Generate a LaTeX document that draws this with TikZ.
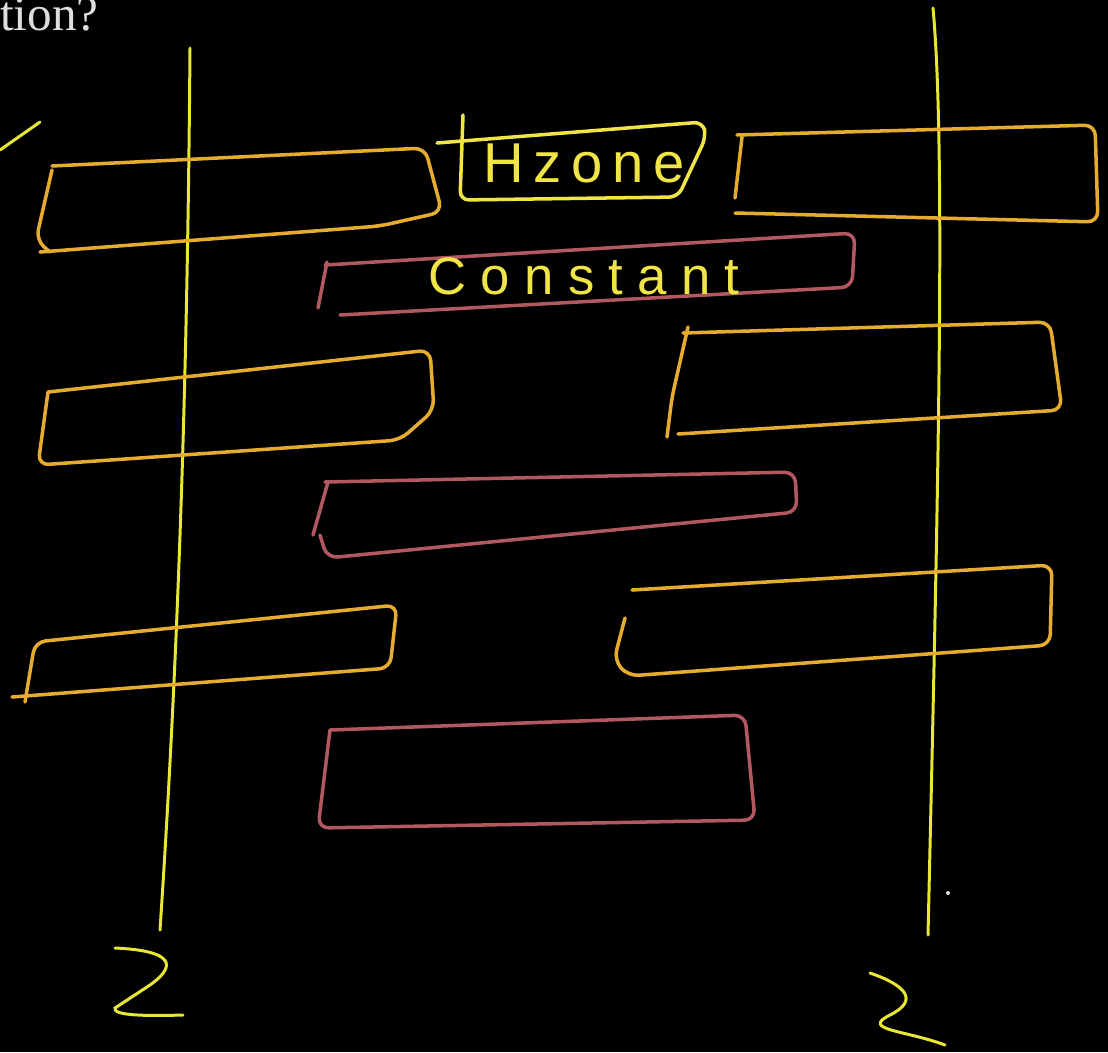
\documentclass[tikz,border=0pt]{standalone}
\usepackage{fontspec}
\setmainfont{Liberation Serif}
\newfontfamily\handfont[LetterSpace=17]{Liberation Sans}
\newfontfamily\handfontb[LetterSpace=27]{Liberation Sans}
\definecolor{zyellow}{RGB}{232,232,52}
\definecolor{thinorange}{RGB}{230,172,48}
\definecolor{thickpink}{RGB}{178,88,96}
\definecolor{chalk}{RGB}{240,228,70}
\definecolor{paper}{RGB}{222,222,222}

\begin{document}
\begin{tikzpicture}[
  x=0.02cm, y=-0.02cm,
  zline/.style={draw=zyellow, line width=1.7pt, line cap=round},
  thinfil/.style={draw=thinorange, line width=2pt, line cap=round, line join=round, rounded corners=6pt},
  thickfil/.style={draw=thickpink, line width=2pt, line cap=round, line join=round, rounded corners=6pt},
  hbox/.style={draw=chalk, line width=2pt, line cap=round, line join=round, rounded corners=5pt},
  label/.style={text=chalk, inner sep=0pt}
]
  \fill[black] (0,0) rectangle (1108,1052);
  \useasboundingbox (0,0) rectangle (1108,1052);
  \clip (0,0) rectangle (1108,1052);

  \node[anchor=base east, text=paper, inner sep=0pt, font=\fontsize{28}{30}\selectfont] (question) at (99,30) {ction?};

  % Z lines
  \draw[zline] (190,48) .. controls (188,300) and (182,600) .. (160,930);
  \draw[zline] (933,8) .. controls (946,150) and (938,500) .. (928,935);
  \draw[zline] (0,150) -- (40,122);
  \fill[paper] (948,893) circle (2);
  \draw[zline] (115,948) .. controls (160,950) and (185,960) .. (150,985)
    -- (115,1008) .. controls (112,1016) and (150,1016) .. (183,1015);
  \draw[zline] (870,973) .. controls (905,985) and (920,1000) .. (890,1015)
    .. controls (860,1030) and (905,1030) .. (945,1045);

  % thin filaments
  \draw[thinfil] (40,252) -- (380,226) -- (442,212) -- (425,148) -- (52,166);
  \draw[thinfil] (52,170) -- (36,240) -- (50,252);
  \draw[thinfil] (48,392) -- (430,350) -- (434,410) -- (400,440) -- (38,465) -- (48,392);
  \draw[thinfil] (12,697) -- (390,668) -- (397,605) -- (35,642) -- (25,702);
  \draw[thinfil] (737,135) -- (1095,125) -- (1098,222) -- (735,213);
  \draw[thinfil] (742,137) -- (735,198);
  \draw[thinfil] (683,333) -- (1050,322) -- (1062,410) -- (678,434);
  \draw[thinfil] (688,327) -- (672,397) -- (667,437);
  \draw[thinfil] (632,590) -- (1052,565) -- (1050,645) -- (628,676) -- (614,660) -- (625,618);

  % thick filaments
  \draw[thickfil] (325,265) -- (855,233) -- (852,287) -- (340,315);
  \draw[thickfil] (327,262) -- (318,308);
  \draw[thickfil] (325,482) -- (795,472) -- (797,512) -- (327,558) -- (320,535);
  \draw[thickfil] (328,482) -- (313,535);
  \draw[thickfil] (330,730) -- (745,715) -- (755,820) -- (318,828) -- (330,730);

  % H zone
  \draw[hbox] (437,143) -- (703,122) -- (706,137) -- (678,197) -- (460,200) -- (463,115);
  \node[label, font=\handfont\fontsize{32}{34}\selectfont] (hzone) at (584,163) {Hzone};
  \node[label, font=\handfontb\fontsize{30}{32}\selectfont] (constant) at (584,276) {Constant};
\end{tikzpicture}
\end{document}
